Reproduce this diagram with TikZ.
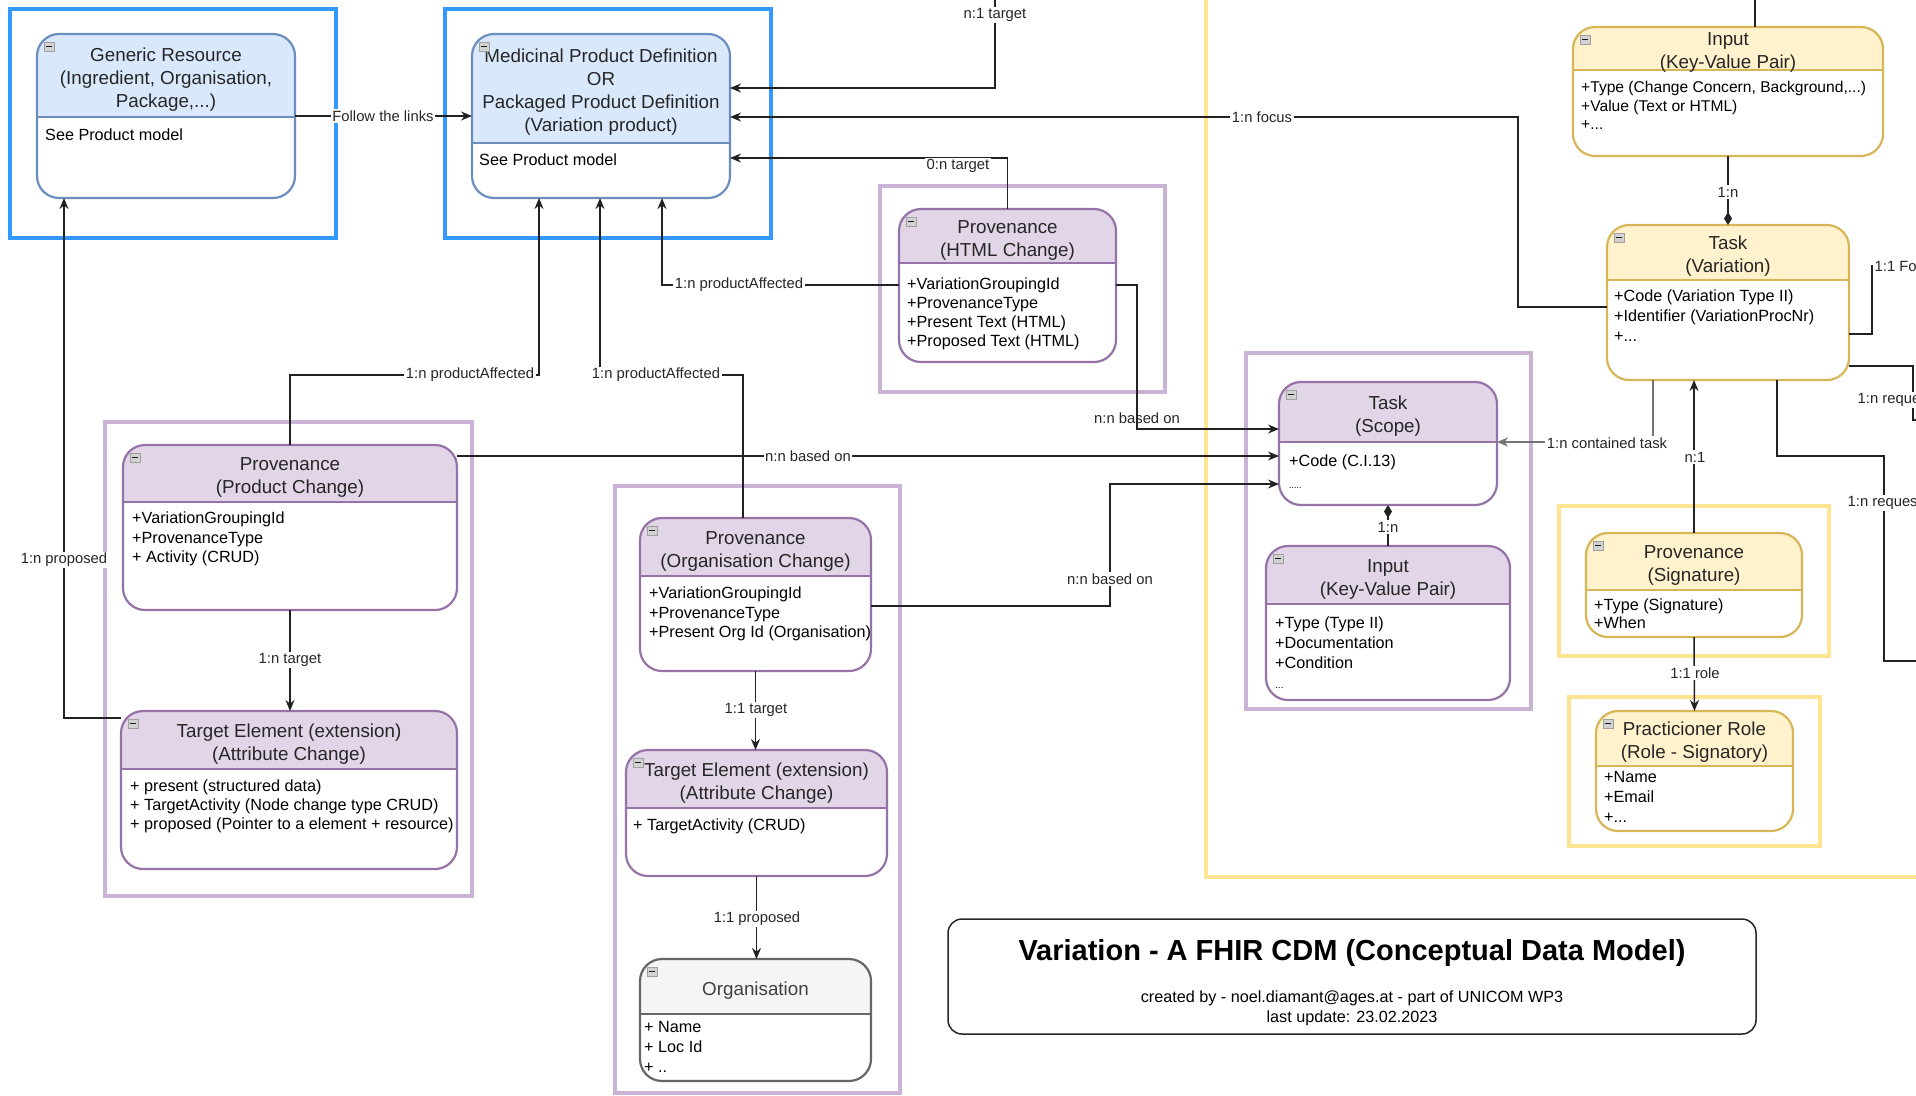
\documentclass[tikz,border=0pt]{standalone}
\usepackage{fontspec}
\setmainfont{Liberation Sans}
\usetikzlibrary{arrows.meta,calc}

% palettes: header fill / outline
\definecolor{blhead}{HTML}{DAE8FC}
\definecolor{blline}{HTML}{6C8EBF}
\definecolor{puhead}{HTML}{E1D5E7}
\definecolor{puline}{HTML}{9673A6}
\definecolor{yehead}{HTML}{FFF2CC}
\definecolor{yeline}{HTML}{D6B656}
\definecolor{gyhead}{HTML}{F5F5F5}
\definecolor{gyline}{HTML}{666666}
\definecolor{frameblue}{HTML}{3399FF}
\definecolor{framepurple}{HTML}{C9B3D6}
\definecolor{frameyellow}{HTML}{FFE491}
\definecolor{wire}{HTML}{222222}

\newcommand{\boxr}{22pt}

% UML-like class box: #1 name, #2 palette, #3 x1, #4 y1, #5 x2, #6 y2, #7 header rule y, #8 title
\newcommand{\umlbox}[8]{%
  \node[inner sep=0pt, outer sep=0pt, minimum width={(#5)-(#3)}, minimum height={(#6)-(#4)}]
    (#1) at ({((#3)+(#5))/2},{((#4)+(#6))/2}) {};
  \begin{scope}
    \clip[rounded corners=\boxr] (#3,#4) rectangle (#5,#6);
    \fill[white] (#3,#4) rectangle (#5,#6);
    \fill[#2head] (#3,#4) rectangle (#5,#7);
  \end{scope}
  \draw[#2line, line width=2.2pt] (#3,#7) -- (#5,#7);
  \draw[#2line, line width=2.2pt, rounded corners=\boxr] (#3,#4) rectangle (#5,#6);
  \node[titletext] (#1-title) at ({((#3)+(#5))/2},{((#4)+(#7))/2+4}) {#8};
  \draw[fill=gray!35, draw=gray!75, line width=0.7pt] ({#3+7},{#4+8}) rectangle ({#3+17},{#4+17});
  \draw[gray!20!black, line width=1pt] ({#3+9},{#4+12.5}) -- ({#3+15},{#4+12.5});
}

\begin{document}
\begin{tikzpicture}[x=1pt, y=-1pt,
  titletext/.style={inner sep=0pt, align=center, font=\fontsize{18.8}{23}\selectfont, text=black!85},
  attrtext/.style={inner sep=0pt, align=left, anchor=north west, font=\fontsize{16.2}{19}\selectfont},
  lbl/.style={inner sep=1.5pt, fill=white, font=\fontsize{14.8}{16}\selectfont, text=black!85},
  conn/.style={draw=wire, line width=1.5pt},
  tip/.style={-{Stealth[length=11pt,width=9pt]}},
  dia/.style={{Diamond[length=13pt,width=8pt]}-},
  bluefr/.style={draw=frameblue, line width=3.5pt},
  purfr/.style={draw=framepurple, line width=3.5pt},
  yelfr/.style={draw=frameyellow, line width=3.5pt}]

\useasboundingbox (0,0) rectangle (1916,1095);
\clip (0,0) rectangle (1916,1095);
\fill[white] (0,0) rectangle (1916,1095);

% grouping frames
\draw[bluefr] (10,9) rectangle (336,238);
\draw[bluefr] (445,9) rectangle (771,238);
\draw[yelfr] (1206,-20) rectangle (1960,877);
\draw[yelfr] (1559,506) rectangle (1829,656);
\draw[yelfr] (1569,697) rectangle (1820,846);
\draw[purfr] (880,186) rectangle (1165,392);
\draw[purfr] (105,422) rectangle (472,896);
\draw[purfr] (615,486) rectangle (900,1093);
\draw[purfr] (1246,353) rectangle (1531,709);

% class boxes
\umlbox{gr}{bl}{37}{34}{295}{198}{117}{Generic Resource\\(Ingredient, Organisation,\\Package,...)}
\node[attrtext] (gr-a) at (45,129) {See Product model};

\umlbox{mp}{bl}{472}{34}{730}{198}{143}{Medicinal Product Definition\\OR\\Packaged Product Definition\\(Variation product)}
\node[attrtext] (mp-a) at (479,154) {See Product model};

\umlbox{phtml}{pu}{899}{209}{1116}{362}{263}{Provenance\\(HTML Change)}
\node[attrtext] (phtml-a) at (907,278) {+VariationGroupingId\\+ProvenanceType\\+Present Text (HTML)\\+Proposed Text (HTML)};

\umlbox{pprod}{pu}{123}{445}{457}{610}{502}{Provenance\\(Product Change)}
\node[attrtext, font=\fontsize{16.2}{19.5}\selectfont] (pprod-a) at (132,512) {+VariationGroupingId\\+ProvenanceType\\+ Activity (CRUD)};

\umlbox{tel}{pu}{121}{711}{457}{869}{769}{Target Element (extension)\\(Attribute Change)}
\node[attrtext] (tel-a) at (130,780) {+ present (structured data)\\+ TargetActivity (Node change type CRUD)\\+ proposed (Pointer to a element + resource)};

\umlbox{porg}{pu}{640}{518}{871}{671}{576}{Provenance\\(Organisation Change)}
\node[attrtext, font=\fontsize{16.2}{19.5}\selectfont] (porg-a) at (649,587) {+VariationGroupingId\\+ProvenanceType\\+Present Org Id (Organisation)};

\umlbox{teo}{pu}{626}{750}{887}{876}{808}{Target Element (extension)\\(Attribute Change)}
\node[attrtext] (teo-a) at (633,819) {+ TargetActivity (CRUD)};

\umlbox{org}{gy}{640}{959}{871}{1081}{1014}{\textcolor{black!75}{Organisation}}
\node[attrtext, font=\fontsize{16.2}{20}\selectfont] (org-a) at (644,1021) {+ Name\\+ Loc Id\\+ ..};

\umlbox{tscope}{pu}{1279}{382}{1497}{505}{442}{Task\\(Scope)}
\node[attrtext, font=\fontsize{16.2}{22}\selectfont] (tscope-a) at (1289,455) {+Code (C.I.13)\\{\fontsize{9}{10}\selectfont .....}};

\umlbox{inpP}{pu}{1266}{546}{1510}{700}{604}{Input\\(Key-Value Pair)}
\node[attrtext, font=\fontsize{16.2}{20}\selectfont] (inpP-a) at (1275,617) {+Type (Type II)\\+Documentation\\+Condition\\{\fontsize{10}{10}\selectfont ...}};

\umlbox{inpY}{ye}{1573}{27}{1883}{156}{70}{Input\\(Key-Value Pair)}
\node[attrtext, font=\fontsize{15.6}{18.5}\selectfont] (inpY-a) at (1581,81) {+Type (Change Concern, Background,...)\\+Value (Text or HTML)\\+...};

\umlbox{tvar}{ye}{1607}{225}{1849}{380}{280}{Task\\(Variation)}
\node[attrtext, font=\fontsize{16.2}{20}\selectfont] (tvar-a) at (1614,290) {+Code (Variation Type II)\\+Identifier (VariationProcNr)\\+...};

\umlbox{psig}{ye}{1586}{533}{1802}{637}{590}{Provenance\\(Signature)}
\node[attrtext, font=\fontsize{16.2}{18}\selectfont] (psig-a) at (1594,599) {+Type (Signature)\\+When};

\umlbox{prole}{ye}{1596}{711}{1793}{831}{766}{Practicioner Role\\(Role - Signatory)}
\node[attrtext, font=\fontsize{16.2}{20}\selectfont] (prole-a) at (1604,771) {+Name\\+Email\\+...};

% loose ends leaving the drawing area
\coordinate (offN1) at (995,-10);
\coordinate (offN2) at (1755,-10);
\coordinate (offE1) at (1940,266);
\coordinate (offE2) at (1940,420);
\coordinate (offE3) at (1940,661);

% connectors
\draw[conn, tip] (gr.east |- 0,116) -- (mp.west |- 0,116);
\node[lbl] (l1) at (383,116) {Follow the links};

\draw[conn, tip] (offN1) |- (mp.east |- 0,88);
\node[lbl] (l2) at (995,15) {n:1 target};

\draw[conn, tip] (tvar.west |- 0,307) -- (1518,307) -- (1518,117) -- (mp.east |- 0,117);
\node[lbl] (l3) at (1262,117) {1:n focus};

\draw[conn, tip] (phtml.north) |- (mp.east |- 0,158);
\node[lbl] (l4) at (958,166) {0:n target};

\draw[conn, tip] (phtml.west |- 0,285) -| (mp.south -| 662,0);
\node[lbl] (l5) at (739,285) {1:n productAffected};

\draw[conn, tip] (pprod.north) |- (539,375) -- (mp.south -| 539,0);
\node[lbl] (l6) at (470,375) {1:n productAffected};

\draw[conn, tip] (porg.north -| 743,0) |- (600,375) -- (mp.south -| 600,0);
\node[lbl] (l7) at (656,375) {1:n productAffected};

\draw[conn, tip] (tel.west |- 0,718) -| (gr.south -| 64,0);
\node[lbl] (l8) at (64,560) {1:n proposed};

\draw[conn, tip] (pprod.south) -- (pprod.south |- tel.north);
\node[lbl] (l9) at (290,660) {1:n target};

\draw[conn, tip] (pprod.east |- 0,456) -- (tscope.west |- 0,456);
\node[lbl] (l10) at (808,456) {n:n based on};

\draw[conn, tip] (phtml.east |- 0,285) -| (1137,429) -- (tscope.west |- 0,429);
\node[lbl, fill=none] (l11) at (1137,418) {n:n based on};

\draw[conn, tip] (porg.east |- 0,606) -| (1110,484) -- (tscope.west |- 0,484);
\node[lbl] (l12) at (1110,579) {n:n based on};

\draw[conn, draw=black!55, tip] (tvar.south -| 1653,0) |- (tscope.east |- 0,442);
\node[lbl] (l13) at (1607,443) {1:n contained task};

\draw[conn, dia] (tscope.south) -- (inpP.north);
\node[lbl] (l14) at (1388,527) {1:n};

\draw[conn, dia] (tvar.north) -- (inpY.south);
\node[lbl] (l15) at (1728,192) {1:n};

\draw[conn] (inpY.north -| 1755,0) -- (offN2);

\draw[conn, tip] (psig.north) -- (tvar.south -| psig.north);
\node[lbl] (l16) at (1695,457) {n:1};

\draw[conn, tip] (psig.south) -- (prole.north);
\node[lbl] (l17) at (1695,673) {1:1 role};

\draw[conn, tip] (porg.south) -- (porg.south |- teo.north);
\node[lbl] (l18) at (756,710) {1:1 target};

\draw[conn, tip] (teo.south) -- (teo.south |- org.north);
\node[lbl] (l19) at (757,919) {1:1 proposed};

\draw[conn] (tvar.east |- 0,334) -| (1872,266) -- (offE1);
\node[lbl, anchor=west] (l20) at (1873,266) {1:1 Fo};

\draw[conn] (tvar.east |- 0,366) -| (1913,420) -- (offE2);
\node[lbl, anchor=west] (l21) at (1856,400) {1:n reque};

\draw[conn] (tvar.south -| 1777,0) |- (1884,456) |- (offE3);
\node[lbl, anchor=west] (l22) at (1846,503) {1:n reques};

% title block
\node[draw=black!85, line width=1.5pt, rounded corners=14pt, minimum width=808, minimum height=115, inner sep=0pt]
  (titlebox) at (1352,976.5) {};
\node[inner sep=0pt, font=\fontsize{29}{34}\selectfont\bfseries] (ttl) at (1352,953)
  {Variation - A FHIR CDM (Conceptual Data Model)};
\node[inner sep=0pt, align=center, font=\fontsize{16.2}{20}\selectfont] (sub) at (1352,1008)
  {created by - noel.diamant@ages.at - part of UNICOM WP3\\last update: 23.02.2023};

\end{tikzpicture}
\end{document}
